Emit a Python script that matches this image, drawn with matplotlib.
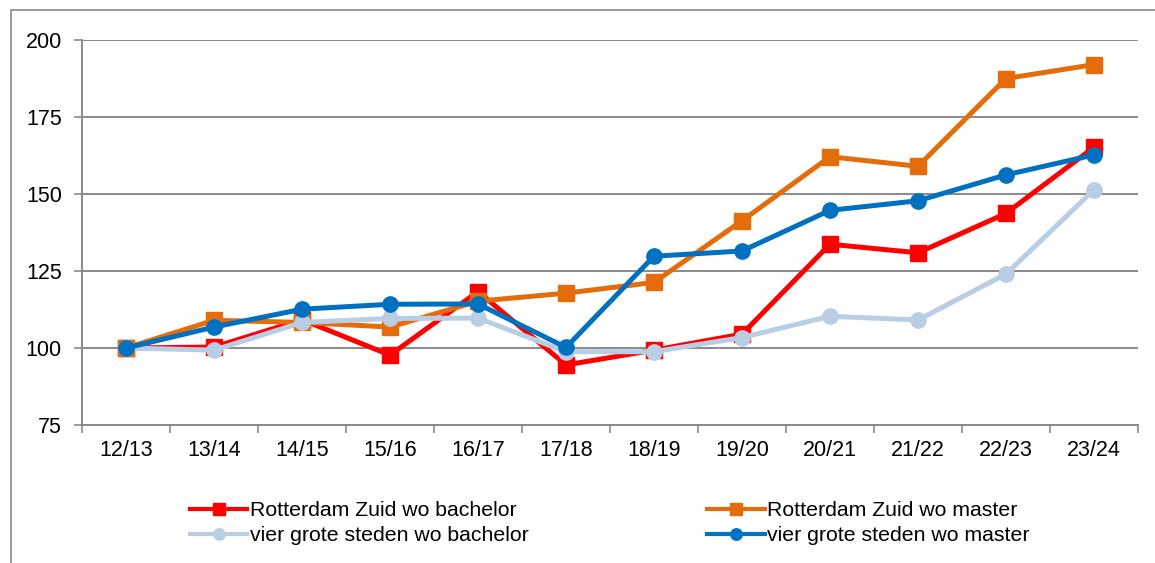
"""Index lines (12/13 = 100) for wo bachelor and master, Rotterdam Zuid vs. vier grote steden."""

import matplotlib

matplotlib.use("Agg")
import matplotlib.pyplot as plt
from matplotlib.patches import Rectangle

plt.rcParams["font.family"] = ["Liberation Sans", "DejaVu Sans"]

years = ["12/13", "13/14", "14/15", "15/16", "16/17", "17/18",
         "18/19", "19/20", "20/21", "21/22", "22/23", "23/24"]

rz_bachelor = [100, 100.3, 109.2, 97.7, 118.3, 94.5, 99.3, 104.5, 133.7, 130.9, 143.7, 165.2]
rz_master = [100, 109.0, 108.3, 106.8, 115.2, 117.8, 121.3, 141.3, 162.1, 159.0, 187.5, 192.0]
g4_bachelor = [100, 99.3, 108.3, 109.6, 109.7, 98.8, 98.8, 103.4, 110.3, 109.1, 124.0, 151.4]
g4_master = [100, 106.8, 112.6, 114.2, 114.3, 100.2, 129.8, 131.5, 144.7, 147.8, 156.2, 162.7]

GRID = "#8a8a8a"
W, H = 1155, 563

fig = plt.figure(figsize=(W / 100, H / 100), dpi=100)
ax = fig.add_axes([82 / W, 1 - 425 / H, (1138 - 82) / W, (425 - 40) / H])

# outer chart frame, runs off the right and bottom edges
fig.add_artist(Rectangle((11 / W, -0.1), 1.2, 1.1 - 10 / H, transform=fig.transFigure,
                         fill=False, ec=GRID, lw=1.2, clip_on=False))

x = list(range(len(years)))
series = [
    (rz_bachelor, "#ff0000", "s", "Rotterdam Zuid wo bachelor"),
    (rz_master, "#e46c0a", "s", "Rotterdam Zuid wo master"),
    (g4_bachelor, "#b9cde5", "o", "vier grote steden wo bachelor"),
    (g4_master, "#0070c0", "o", "vier grote steden wo master"),
]
handles = []
for values, color, marker, label in series:
    (line,) = ax.plot(x, values, color=color, lw=3.6, marker=marker,
                      ms=11.5 if marker == "s" else 11, mec=color, mfc=color,
                      label=label, clip_on=False)
    handles.append(line)

ax.set_xlim(-0.5, len(years) - 0.5)
ax.set_ylim(75, 200)
ax.set_yticks(range(75, 201, 25))
ax.yaxis.grid(True, color=GRID, lw=1.4)
ax.set_axisbelow(True)

ax.set_xticks([i - 0.5 for i in range(len(years) + 1)])
ax.set_xticklabels([])
ax.set_xticks(x, minor=True)
ax.set_xticklabels(years, minor=True)
ax.tick_params(axis="x", which="major", direction="out", length=6, width=1.2, color=GRID)
ax.tick_params(axis="x", which="minor", length=0, pad=11, labelsize=15.5)
ax.tick_params(axis="y", direction="out", length=6, width=1.2, color=GRID, pad=8.5, labelsize=15.5)

for side in ("top", "right"):
    ax.spines[side].set_visible(False)
for side in ("left", "bottom"):
    ax.spines[side].set_color(GRID)
    ax.spines[side].set_linewidth(1.4)

order = [0, 2, 1, 3]
leg = fig.legend([handles[i] for i in order], [handles[i].get_label() for i in order],
                 ncol=2, loc="upper left", bbox_to_anchor=(190 / W, 1 - 501 / H),
                 frameon=False, fontsize=15.3, handlelength=2.7, handletextpad=0.12,
                 columnspacing=8.4, labelspacing=0.3, markerscale=0.75,
                 borderpad=0, borderaxespad=0)
for h in leg.legend_handles:
    h.set_linewidth(3.0)

fig.savefig("out.png", dpi=100)
